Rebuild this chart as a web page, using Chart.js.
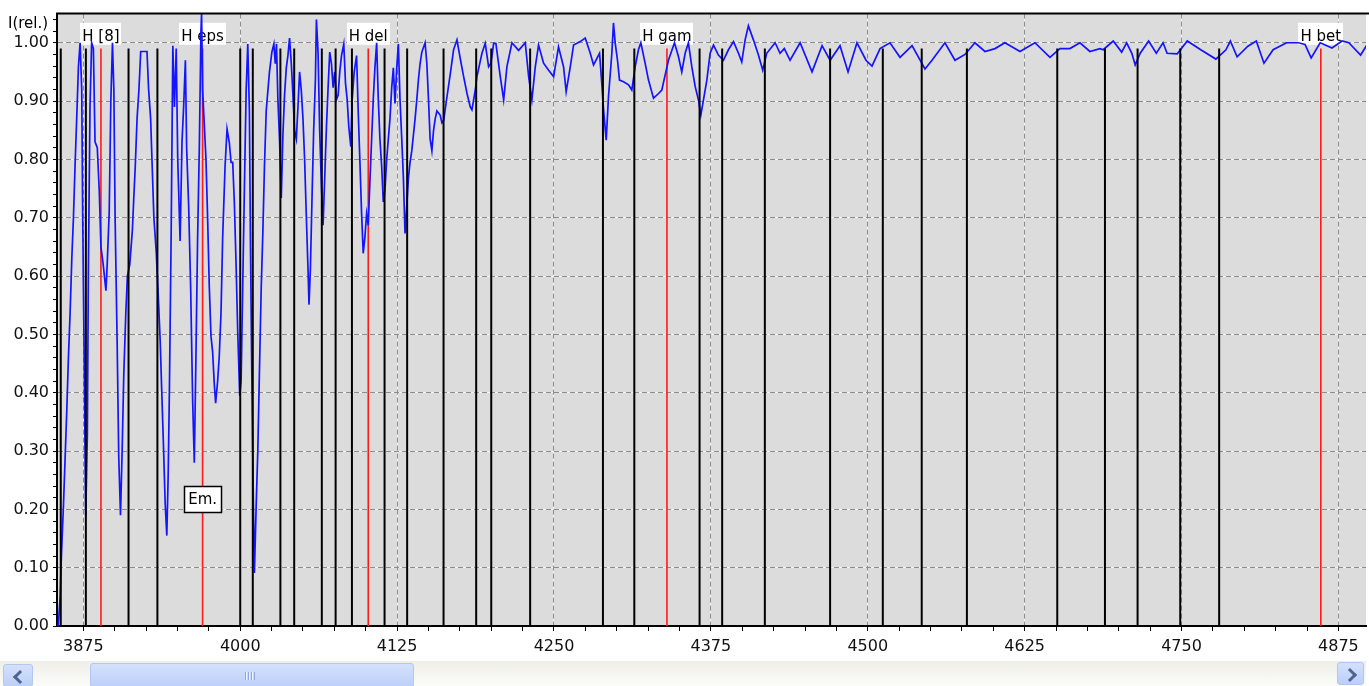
<!DOCTYPE html>
<html>
<head>
<meta charset="utf-8">
<script src="https://cdn.jsdelivr.net/npm/chart.js@4.4.1/dist/chart.umd.min.js"></script>
<style>
  html, body { margin: 0; padding: 0; background: #fff; }
  body { width: 1369px; height: 686px; overflow: hidden; position: relative; }
  #plot { position: absolute; left: 0; top: 0; }
  /* windows-style horizontal scrollbar under the plot */
  .sb { position: absolute; left: 0; top: 661px; width: 1366px; height: 25px;
        background: linear-gradient(#efeee8, #fbfbf9); }
  .btn, .thumb { position: absolute; box-sizing: border-box; border: 1px solid #b3c6f2;
        border-radius: 3px; background: linear-gradient(#d4e1fd, #bccff8); }
  .btn.left { left: 3px; top: 3px; width: 30px; height: 23px; }
  .btn.right { left: 1337px; top: 1px; width: 27px; height: 23px; }
  .thumb { left: 90px; top: 2px; width: 324px; height: 25px; }
  .chev { position: absolute; top: 7px; width: 7px; height: 7px;
          border-left: 3px solid #4d6590; border-bottom: 3px solid #4d6590; }
  .left .chev { left: 11px; transform: rotate(45deg); }
  .right .chev { left: 7px; transform: rotate(-135deg); }
  .grip { position: absolute; left: 154px; top: 8px; width: 10px; height: 8px;
          background: repeating-linear-gradient(90deg, #8fa7dc 0 1px, #eef3ff 1px 2px, transparent 2px 3px); }
</style>
</head>
<body>
<canvas id="plot" width="1369" height="660"></canvas>
<div class="sb">
  <div class="btn left"><div class="chev"></div></div>
  <div class="thumb"><div class="grip"></div></div>
  <div class="btn right"><div class="chev"></div></div>
</div>
<script>
const FONT = '"DejaVu Sans", Verdana, sans-serif';

// axis ranges and tick steps
const X_MIN = 3854;
const X_MAX = 4897;
const X_MAJOR = 125;
const X_MINOR = 25;
const Y_MAX = 1.05;
const Y_MINOR = 0.02;

// hydrogen lines (red) with their labels
const HYDROGEN_WL = [3889, 3970, 4102, 4340, 4861];
const HYDROGEN_LABELS = ["H [8]", "H eps", "H del", "H gam", "H bet"];

// other marked lines (black)
const LINE_WL = [3857, 3877, 3911, 3934, 4000, 4010, 4032, 4043, 4065, 4076, 4089,
  4115, 4133, 4162, 4188, 4200, 4231, 4289, 4314, 4366, 4384, 4418, 4470, 4512,
  4543, 4579, 4651, 4689, 4715, 4749, 4780];
const LINE_TOP = 0.99;

// emission marker
const EM_WL = 3970;
const EM_LEVEL = 0.217;
const EM_TEXT = "Em.";

// relative intensity spectrum
const SPEC_WL = [
  3855.0, 3856.5, 3857.5, 3859.2, 3860.5, 3861.8, 3863.1, 3864.5, 3865.8, 3867.1,
  3868.4, 3869.7, 3871.1, 3872.4, 3873.7, 3874.5, 3875.5, 3876.9, 3878.2, 3879.0,
  3880.3, 3881.6, 3883.0, 3884.3, 3886.1, 3887.7, 3889.0, 3890.8, 3893.0, 3894.0,
  3895.6, 3896.9, 3898.2, 3899.3, 3900.3, 3901.9, 3903.2, 3904.6, 3905.9, 3907.2,
  3908.8, 3910.1, 3912.0, 3914.1, 3915.1, 3916.4, 3917.8, 3919.3, 3920.7, 3925.7,
  3927.0, 3928.6, 3929.9, 3931.2, 3933.1, 3934.6, 3936.2, 3937.5, 3938.9, 3940.2,
  3941.5, 3942.6, 3943.6, 3945.0, 3946.3, 3947.6, 3949.0, 3950.2, 3952.1, 3953.6,
  3954.9, 3956.3, 3957.3, 3958.9, 3960.5, 3962.1, 3963.4, 3964.7, 3966.0, 3967.4,
  3968.7, 3969.2, 3970.0, 3972.7, 3974.0, 3975.3, 3976.7, 3978.0, 3979.3, 3980.4,
  3982.0, 3983.3, 3984.7, 3986.0, 3987.9, 3989.5, 3991.3, 3992.7, 3994.0, 3995.3,
  3996.7, 3998.0, 3999.6, 4000.7, 4002.0, 4003.3, 4004.7, 4006.0, 4007.3, 4008.1,
  4009.2, 4010.5, 4011.3, 4012.7, 4014.0, 4015.3, 4016.7, 4018.0, 4019.3, 4020.7,
  4022.0, 4023.3, 4025.2, 4026.8, 4027.9, 4028.9, 4030.0, 4031.3, 4032.7, 4034.0,
  4035.3, 4036.7, 4038.0, 4039.3, 4040.7, 4042.0, 4043.3, 4044.7, 4046.0, 4047.3,
  4048.7, 4050.0, 4051.3, 4052.7, 4054.0, 4054.8, 4055.9, 4057.2, 4058.5, 4059.9,
  4060.7, 4062.0, 4063.3, 4064.7, 4066.0, 4067.3, 4068.7, 4070.0, 4071.3, 4072.7,
  4074.0, 4075.3, 4076.7, 4078.0, 4079.3, 4080.7, 4082.5, 4083.9, 4085.2, 4086.5,
  4088.1, 4089.2, 4090.8, 4092.7, 4094.0, 4095.3, 4096.7, 4098.0, 4099.3, 4100.7,
  4102.0, 4103.3, 4104.7, 4106.0, 4107.3, 4108.7, 4110.0, 4111.3, 4112.7, 4114.0,
  4115.3, 4116.7, 4118.0, 4119.3, 4120.7, 4122.0, 4123.3, 4124.7, 4126.0, 4127.3,
  4128.7, 4130.0, 4131.3, 4132.7, 4134.0, 4135.3, 4136.7, 4138.0, 4139.3, 4140.7,
  4142.0, 4143.3, 4144.7, 4147.3, 4148.7, 4150.0, 4151.3, 4152.7, 4154.0, 4155.3,
  4156.7, 4159.3, 4160.7, 4162.1, 4164.7, 4167.4, 4170.0, 4172.7, 4175.3, 4178.0,
  4180.7, 4183.3, 4184.6, 4187.3, 4188.6, 4192.6, 4195.2, 4197.9, 4199.8, 4201.9,
  4203.7, 4207.2, 4209.9, 4212.5, 4216.5, 4221.8, 4227.1, 4229.8, 4232.4, 4235.1,
  4237.7, 4241.7, 4245.7, 4249.7, 4253.6, 4257.6, 4259.7, 4263.0, 4265.6, 4270.9,
  4274.9, 4278.9, 4281.5, 4286.3, 4288.1, 4289.5, 4291.6, 4293.4, 4296.1, 4297.4,
  4298.8, 4300.6, 4302.2, 4305.4, 4309.4, 4312.0, 4314.7, 4317.3, 4319.2, 4322.6,
  4325.3, 4329.3, 4333.3, 4335.9, 4338.6, 4341.2, 4346.0, 4349.2, 4351.8, 4354.5,
  4357.1, 4359.8, 4362.5, 4365.1, 4367.0, 4369.1, 4371.8, 4374.4, 4377.1, 4381.0,
  4385.0, 4389.0, 4393.0, 4397.0, 4399.6, 4402.3, 4404.9, 4408.9, 4412.9, 4416.3,
  4419.5, 4426.2, 4430.1, 4433.5, 4438.1, 4446.1, 4455.6, 4463.6, 4470.0, 4477.9,
  4484.3, 4491.4, 4498.6, 4503.4, 4509.8, 4517.7, 4525.7, 4535.3, 4545.6, 4551.2,
  4561.5, 4569.5, 4577.5, 4585.4, 4593.4, 4601.4, 4609.3, 4621.3, 4633.2, 4645.2,
  4653.1, 4661.1, 4669.1, 4677.0, 4685.0, 4687.6, 4695.6, 4702.3, 4706.3, 4710.4,
  4713.1, 4717.1, 4723.8, 4729.9, 4735.3, 4738.5, 4746.6, 4754.6, 4765.3, 4777.4,
  4785.4, 4788.9, 4794.3, 4802.9, 4809.6, 4815.7, 4823.0, 4833.7, 4843.1, 4848.4,
  4853.3, 4860.5, 4869.9, 4877.9, 4883.3, 4892.7, 4898.8
];
const SPEC_I = [
  0.00, 0.05, 0.12, 0.21, 0.29, 0.37, 0.46, 0.54, 0.63, 0.70,
  0.79, 0.87, 0.96, 1.00, 0.92, 0.70, 0.49, 0.19, 0.33, 0.61,
  0.89, 1.00, 0.99, 0.83, 0.82, 0.745, 0.65, 0.62, 0.575, 0.62,
  0.71, 0.90, 1.00, 0.92, 0.70, 0.49, 0.29, 0.19, 0.30, 0.43,
  0.535, 0.60, 0.62, 0.68, 0.73, 0.79, 0.87, 0.92, 0.985, 0.985,
  0.92, 0.87, 0.785, 0.70, 0.64, 0.57, 0.49, 0.40, 0.305, 0.21,
  0.155, 0.26, 0.41, 0.68, 0.995, 0.89, 0.99, 0.80, 0.66, 0.83,
  0.89, 0.97, 0.82, 0.72, 0.58, 0.385, 0.28, 0.46, 0.66, 0.82,
  1.02, 1.05, 0.92, 0.80, 0.70, 0.585, 0.497, 0.47, 0.416, 0.382,
  0.42, 0.463, 0.538, 0.666, 0.788, 0.852, 0.829, 0.795, 0.795, 0.727,
  0.619, 0.504, 0.395, 0.42, 0.585, 0.747, 0.917, 0.998, 0.883, 0.666,
  0.436, 0.206, 0.091, 0.206, 0.30, 0.436, 0.578, 0.673, 0.788, 0.883,
  0.917, 0.95, 0.984, 0.998, 0.964, 0.998, 0.903, 0.835, 0.734, 0.842,
  0.91, 0.957, 0.978, 1.008, 0.964, 0.91, 0.849, 0.835, 0.89, 0.95,
  0.917, 0.869, 0.80, 0.70, 0.612, 0.551, 0.612, 0.734, 0.849, 0.937,
  1.04, 0.984, 0.849, 0.754, 0.687, 0.768, 0.856, 0.923, 0.984, 0.964,
  0.923, 0.95, 0.903, 0.91, 0.95, 0.978, 0.998, 0.93, 0.903, 0.856,
  0.822, 0.903, 0.95, 0.978, 0.883, 0.80, 0.707, 0.639, 0.666, 0.707,
  0.687, 0.761, 0.835, 0.903, 0.957, 1.00, 0.903, 0.835, 0.788, 0.727,
  0.747, 0.80, 0.835, 0.869, 0.923, 0.957, 0.896, 0.957, 0.998, 0.903,
  0.835, 0.768, 0.673, 0.72, 0.768, 0.795, 0.815, 0.842, 0.869, 0.903,
  0.937, 0.964, 0.984, 1.00, 0.964, 0.903, 0.835, 0.815, 0.849, 0.869,
  0.883, 0.876, 0.863, 0.867, 0.907, 0.947, 0.988, 1.005, 0.973, 0.942,
  0.913, 0.890, 0.885, 0.919, 0.942, 0.982, 0.999, 0.959, 0.965, 0.999,
  0.999, 0.942, 0.902, 0.959, 1.00, 0.987, 1.00, 0.942, 0.902, 0.959,
  0.996, 0.965, 0.953, 0.942, 0.993, 0.959, 0.916, 0.959, 0.996, 1.002,
  1.008, 0.982, 0.962, 0.982, 0.930, 0.885, 0.833, 0.907, 0.982, 1.034,
  0.999, 0.970, 0.936, 0.933, 0.928, 0.919, 0.959, 0.988, 1.00, 0.965,
  0.936, 0.905, 0.913, 0.919, 0.945, 0.970, 1.00, 0.976, 0.950, 0.982,
  1.00, 0.959, 0.925, 0.902, 0.876, 0.902, 0.936, 0.982, 0.996, 0.979,
  0.970, 0.988, 1.002, 0.982, 0.967, 1.005, 1.029, 1.005, 0.979, 0.953,
  0.982, 1.00, 0.982, 0.99, 0.97, 1.00, 0.95, 0.995, 0.97, 0.995,
  0.95, 1.00, 0.97, 0.96, 0.99, 1.00, 0.975, 0.995, 0.955, 0.97,
  1.00, 0.97, 0.98, 1.00, 0.985, 0.99, 1.00, 0.985, 1.00, 0.975,
  0.99, 0.99, 1.00, 0.985, 0.99, 0.988, 1.003, 0.984, 1.00, 0.982,
  0.962, 0.982, 1.003, 0.982, 1.00, 0.982, 0.981, 1.003, 0.988, 0.972,
  0.988, 1.003, 0.976, 0.994, 1.003, 0.965, 0.988, 1.00, 1.00, 0.997,
  0.974, 1.00, 0.991, 1.003, 1.00, 0.979, 1.00
];

const isMajorX = (v) => Math.round(v) % X_MAJOR === 0;
const isMajorY = (v) => Math.round(v * 100) % 10 === 0;

// vertical marker segments, separated by gaps
const sticks = (list) => list.flatMap((w) => [
  { x: w, y: 0 }, { x: w, y: LINE_TOP }, { x: w, y: null },
]);

const align = (p) => Math.round(p - 0.5) + 0.5;

const decor = {
  id: "decor",
  beforeDraw(chart) {
    const { ctx, chartArea: a, scales: { x, y } } = chart;
    ctx.save();
    ctx.fillStyle = "#dcdcdc";
    ctx.fillRect(a.left, a.top, a.right - a.left, a.bottom - a.top);
    // light underlay so the dashed grid shows white gaps
    ctx.strokeStyle = "#f6f6f6";
    ctx.lineWidth = 1;
    ctx.beginPath();
    x.ticks.filter((t) => isMajorX(t.value)).forEach((t) => {
      const p = align(x.getPixelForValue(t.value));
      ctx.moveTo(p, a.top);
      ctx.lineTo(p, a.bottom);
    });
    y.ticks.filter((t) => isMajorY(t.value)).forEach((t) => {
      const p = align(y.getPixelForValue(t.value));
      ctx.moveTo(a.left, p);
      ctx.lineTo(a.right, p);
    });
    ctx.stroke();
    ctx.restore();
  },
  beforeDatasetsDraw(chart) {
    const { ctx, scales: { x, y } } = chart;
    ctx.save();
    ctx.font = "15px " + FONT;
    ctx.textAlign = "center";
    ctx.textBaseline = "alphabetic";
    const base = y.getPixelForValue(1.0);
    HYDROGEN_WL.forEach((wl, i) => {
      const label = HYDROGEN_LABELS[i];
      const cx = x.getPixelForValue(wl);
      const w = ctx.measureText(label).width + 4;
      ctx.fillStyle = "#ffffff";
      ctx.fillRect(Math.round(cx - w / 2), base - 20, Math.round(w), 22);
      ctx.fillStyle = "#000";
      ctx.fillText(label, cx, base - 2);
    });
    ctx.restore();
  },
  afterDatasetsDraw(chart) {
    const { ctx, scales: { x, y } } = chart;
    ctx.save();
    ctx.font = "15px " + FONT;
    const cx = x.getPixelForValue(EM_WL);
    const cy = y.getPixelForValue(EM_LEVEL);
    const w = ctx.measureText(EM_TEXT).width + 8;
    const h = 26;
    const bx = Math.round(cx - w / 2) + 0.5;
    const by = Math.round(cy - h / 2) + 0.5;
    ctx.fillStyle = "#fff";
    ctx.fillRect(bx, by, Math.round(w), h);
    ctx.strokeStyle = "#000";
    ctx.lineWidth = 1.5;
    ctx.strokeRect(bx, by, Math.round(w), h);
    ctx.fillStyle = "#000";
    ctx.textAlign = "center";
    ctx.textBaseline = "middle";
    ctx.fillText(EM_TEXT, cx, cy + 1);
    ctx.restore();
  },
  afterDraw(chart) {
    const { ctx, chartArea: a } = chart;
    ctx.save();
    ctx.strokeStyle = "#000";
    ctx.lineWidth = 2;
    ctx.beginPath();
    ctx.moveTo(a.left - 1, a.top);
    ctx.lineTo(chart.width, a.top);
    ctx.stroke();
    ctx.font = "15px " + FONT;
    ctx.fillStyle = "#000";
    ctx.textBaseline = "alphabetic";
    ctx.fillText("I(rel.)", 8, 28);
    ctx.restore();
  },
};

new Chart(document.getElementById("plot"), {
  type: "line",
  data: {
    datasets: [
      {
        label: "lines",
        data: sticks(LINE_WL),
        borderColor: "#000",
        borderWidth: 2,
        pointRadius: 0,
        spanGaps: false,
        order: 0,
      },
      {
        label: "spectrum",
        data: SPEC_WL.map((w, i) => ({ x: w, y: SPEC_I[i] })),
        borderColor: "#1414ff",
        borderWidth: 1.7,
        pointRadius: 0,
        tension: 0,
        order: 1,
      },
      {
        label: "hydrogen",
        data: sticks(HYDROGEN_WL),
        borderColor: "#ff1a1a",
        borderWidth: 1.6,
        pointRadius: 0,
        spanGaps: false,
        order: 2,
      },
    ],
  },
  options: {
    responsive: false,
    animation: false,
    layout: { padding: { left: 0, top: 13, right: 3, bottom: 0 } },
    plugins: { legend: { display: false }, tooltip: { enabled: false } },
    scales: {
      x: {
        type: "linear",
        min: X_MIN,
        max: X_MAX,
        afterFit: (s) => { s.height = 34; },
        ticks: {
          stepSize: X_MINOR,
          includeBounds: false,
          autoSkip: false,
          maxRotation: 0,
          padding: 6,
          color: "#111",
          font: { family: FONT, size: 16 },
          callback: (v) => (isMajorX(v) ? String(Math.round(v)) : ""),
        },
        grid: {
          color: (c) => (c.tick && isMajorX(c.tick.value) ? "#8c8c8c" : "rgba(0,0,0,0)"),
          lineWidth: 1,
          tickLength: 5,
          tickColor: "#000",
        },
        border: { color: "#000", width: 2, dash: [5, 3] },
      },
      y: {
        min: 0,
        max: Y_MAX,
        afterFit: (s) => { s.width = 57; },
        ticks: {
          stepSize: Y_MINOR,
          includeBounds: false,
          autoSkip: false,
          padding: 4,
          color: "#111",
          font: { family: FONT, size: 16 },
          callback: (v) => (isMajorY(v) ? v.toFixed(2) : ""),
        },
        grid: {
          color: (c) => (c.tick && isMajorY(c.tick.value) ? "#8c8c8c" : "rgba(0,0,0,0)"),
          lineWidth: 1,
          tickLength: 4,
          tickColor: "#000",
        },
        border: { color: "#000", width: 2, dash: [5, 3] },
      },
    },
  },
  plugins: [decor],
});
</script>
</body>
</html>
